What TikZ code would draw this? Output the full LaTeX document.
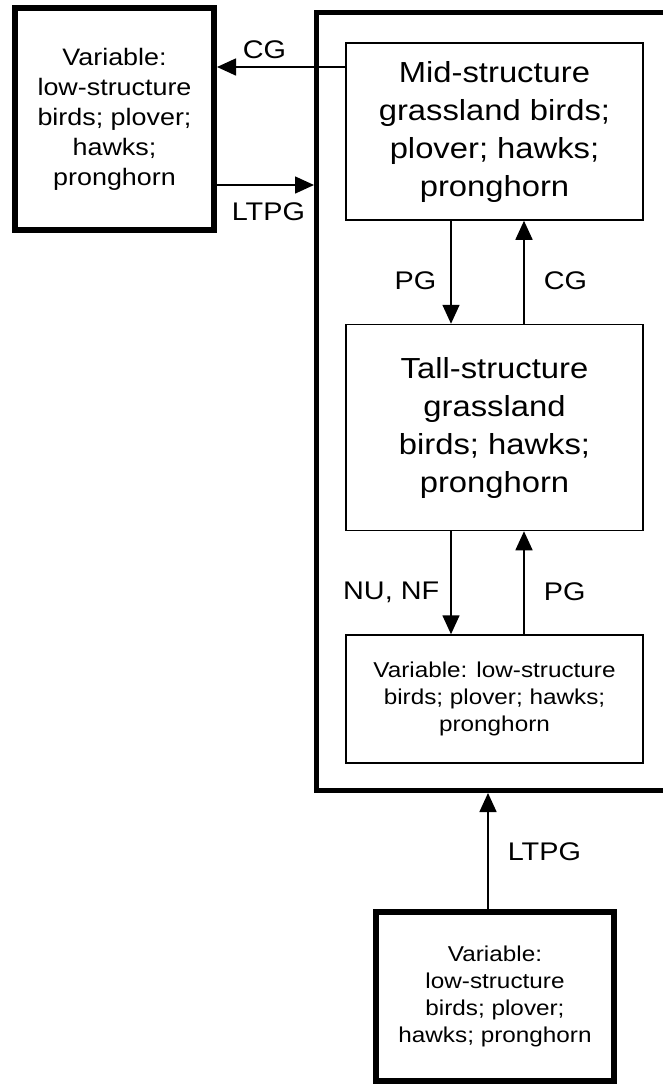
\documentclass[tikz,border=0pt]{standalone}
\usepackage{fontspec}
\setmainfont{Liberation Sans}[FakeStretch=1.13]
\usetikzlibrary{positioning,arrows.meta}

\begin{document}
\begin{tikzpicture}[
    x=1pt, y=-1pt,
    node distance=103pt,
    box/.style={
        rectangle,
        minimum width=297pt,
        align=center,
        draw=black,
        line width=1.5pt,
        inner sep=0pt,
        font=\fontsize{29}{38}\selectfont
    },
    varbox/.style={
        rectangle,
        align=center,
        draw=black,
        line width=6pt,
        inner sep=0pt,
        font=\fontsize{21.5}{27}\selectfont
    },
    lbl/.style={
        inner sep=0pt,
        font=\fontsize{25.5}{30}\selectfont
    },
    line/.style={
        -{Triangle[length=19pt,width=17pt]},
        line width=1.6pt
    }
]
\useasboundingbox (0,0) rectangle (662,1088);

% system box, right side runs off the page
\node[draw=black, line width=5pt, minimum width=400pt, minimum height=778pt,
      anchor=north west] (sys) at (314,10) {};

\node[box, minimum height=177pt] (mid) at (494.5,131.5)
    {Mid-structure\\grassland birds;\\plover; hawks;\\pronghorn};
\node[box, minimum height=206pt, below=of mid] (tall)
    {Tall-structure\\grassland\\birds; hawks;\\pronghorn};
\node[box, minimum height=128pt, below=of tall, font=\fontsize{21.5}{27}\selectfont] (low)
    {Variable: low-structure\\birds; plover; hawks;\\pronghorn};

\node[varbox, minimum width=199pt, minimum height=222pt,
      font=\fontsize{23.8}{30}\selectfont] (varA) at (114.5,119)
    {Variable:\\low-structure\\birds; plover;\\hawks;\\pronghorn};
\node[varbox, minimum width=238pt, minimum height=169pt] (varB) at (495,996.5)
    {Variable:\\low-structure\\birds; plover;\\hawks; pronghorn};

\coordinate (cgL) at ([yshift=64.5pt]mid.west);
\coordinate (ltL) at ([yshift=-66pt]varA.east);
\coordinate (ltB) at ([xshift=-7pt]varB.north);

\draw[line] (cgL) -- (cgL -| varA.east) node[lbl, above=7pt, pos=0.63] {CG};
\draw[line] (ltL) -- (ltL -| sys.west) node[lbl, below=17pt, pos=0.53] {LTPG};
\draw[line] ([xshift=-43.5pt]mid.south) -- ([xshift=-43.5pt]tall.north) node[lbl, left=14pt, pos=0.58] {PG};
\draw[line] ([xshift=29.5pt]tall.north) -- ([xshift=29.5pt]mid.south) node[lbl, right=19pt, pos=0.42] {CG};
\draw[line] ([xshift=-43.5pt]tall.south) -- ([xshift=-43.5pt]low.north) node[lbl, left=11pt, pos=0.59] {NU, NF};
\draw[line] ([xshift=29.5pt]low.north) -- ([xshift=29.5pt]tall.south) node[lbl, right=19pt, pos=0.41] {PG};
\draw[line] (ltB) -- (ltB |- sys.south) node[lbl, right=19pt, pos=0.49] {LTPG};

\end{tikzpicture}
\end{document}
